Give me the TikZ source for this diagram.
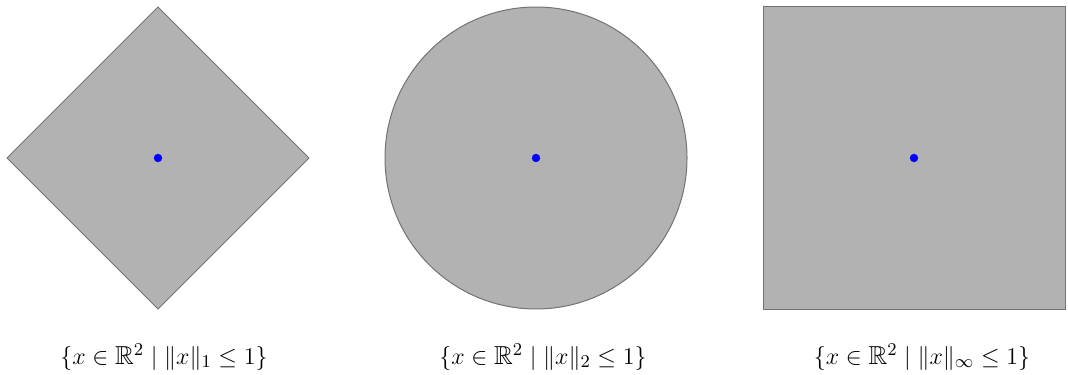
\documentclass[tikz,border=0pt]{standalone}
\usepackage{amssymb}
\begin{document}
\begin{tikzpicture}[x=0.5pt,y=-0.5pt,
  ball/.style={fill=black!30,draw=black!55,line width=0.5pt,line join=miter},
  ctr/.style={circle,fill=blue,inner sep=0pt,minimum size=4.2pt},
  lab/.style={font=\fontsize{13}{15}\selectfont,inner sep=0pt}]
\useasboundingbox (0,0) rectangle (1068,374);
% l1 ball
\draw[ball] (158,7) -- (309,158) -- (158,309) -- (7,158) -- cycle;
\node[ctr] (c1) at (158,158) {};
% l2 ball
\draw[ball] (536,158) circle [radius=151];
\node[ctr] (c2) at (536,158) {};
% linf ball
\draw[ball] (763,7) rectangle (1065,309);
\node[ctr] (c3) at (914,158) {};
% labels
\node[lab] (l1) at (164,357) {$\{x\in\mathbb{R}^2 \mid \|x\|_1\leq 1\}$};
\node[lab] (l2) at (543,357) {$\{x\in\mathbb{R}^2 \mid \|x\|_2\leq 1\}$};
\node[lab] (l3) at (922,357) {$\{x\in\mathbb{R}^2 \mid \|x\|_\infty\leq 1\}$};
\end{tikzpicture}
\end{document}
